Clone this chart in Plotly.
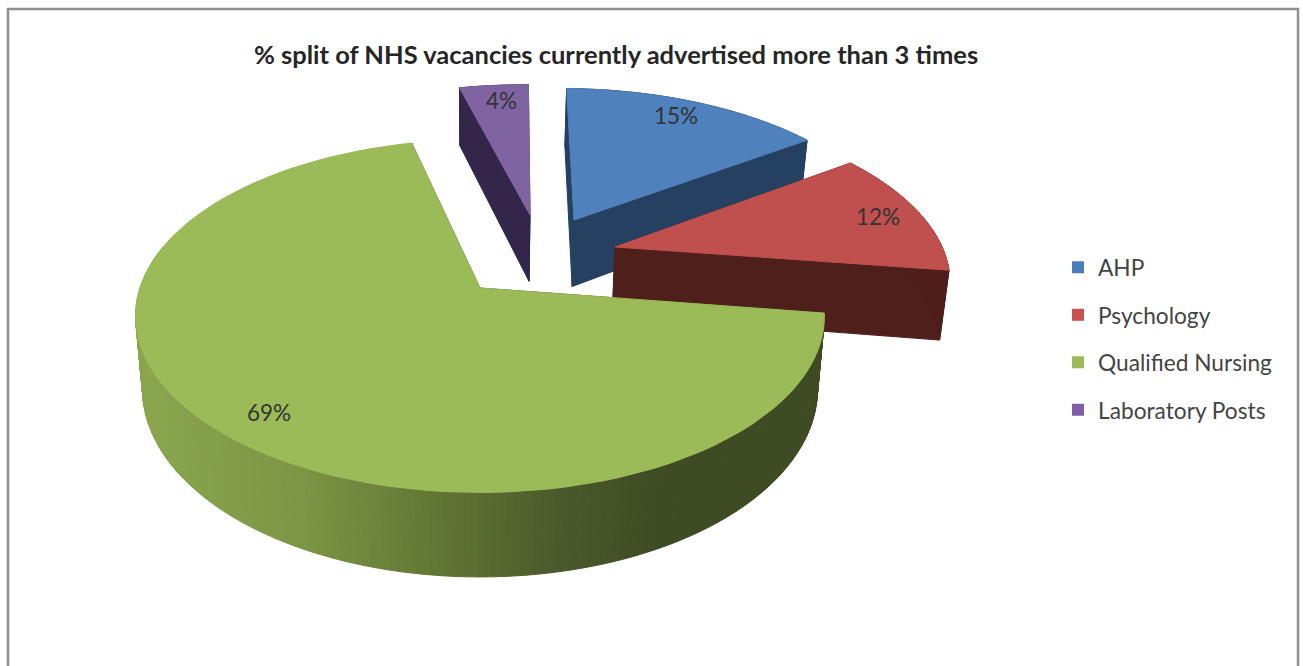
import numpy as np
import plotly.graph_objects as go

# ---- data ----
categories = ["AHP", "Psychology", "Qualified Nursing", "Laboratory Posts"]
shares = [15, 12, 69, 4]
title_text = "% split of NHS vacancies currently advertised more than 3 times"

# ---- styling ----
top_colors = ["#4f81bd", "#c0504d", "#9bbb59", "#8064a2"]
side_colors = ["#254061", "#4f1f1b", "#3f4b23", "#33264a"]
legend_colors = ["#4a7ebb", "#c8504e", "#9bbb59", "#7f5fa8"]
TEXT = "#333333"
FONT = "Lato, 'Open Sans', sans-serif"

# Pixel positions of each slice's apex on the pie's top face (the explosion)
apex_px = [(574, 220), (615, 247), (480, 288), (530, 215)]
label_px = [(676, 115), (878, 216), (269, 412), (501, 100)]

# Projection of the unit-disc pie onto the page
CX, CY = 480.0, 288.0
A, B, K = 340.0, 172.0, 0.159
DEPTH = 71.0
SHRINK = 0.98
ROTATION = 1.0


def project(u, v, bottom=False):
    s = 1.0 / (1.0 - K * np.asarray(v))
    x = A * np.asarray(u) * s
    y = B * np.asarray(v) * s
    if bottom:
        return CX + x * SHRINK, CY + y + DEPTH * s
    return CX + x, CY + y


def unproject(px, py):
    dx, dy = px - CX, py - CY
    v = dy / (B + K * dy)
    u = dx * (1 - K * v) / A
    return u, v


def ring(c, a):
    """disc position of angle a (deg, clockwise from 12 o'clock) for centre c"""
    r = np.radians(a)
    return c[0] + np.sin(r), c[1] - np.cos(r)


fig = go.Figure()


def poly(xs, ys, color, name=None, text=None):
    fig.add_trace(go.Scatter(
        x=list(xs) + [xs[0]], y=list(ys) + [ys[0]], mode="lines", fill="toself",
        fillcolor=color, line=dict(color=color, width=1), showlegend=False,
        name=name or "", hoverinfo="text" if text else "skip", text=text,
        hoveron="fills"))


def mix(stops, t):
    xs = [s[0] for s in stops]
    ch = [np.interp(t, xs, [int(s[1][i:i + 2], 16) for s in stops]) for i in (1, 3, 5)]
    return "#%02x%02x%02x" % tuple(int(round(c)) for c in ch)


green_stops = [(140, "#8aa64d"), (300, "#7d9545"), (420, "#647a36"), (560, "#4a5a2b"),
               (660, "#3f4b23"), (830, "#3f4b23")]

edges = np.cumsum([0] + shares) / sum(shares) * 360.0 + ROTATION
spans = list(zip(edges[:-1], edges[1:]))
centres = [unproject(*p) for p in apex_px]

for i in [3, 0, 1, 2]:  # far slices first
    c = centres[i]
    a0, a1 = spans[i]
    # radial cut faces
    for a in (a0, a1):
        u, v = ring(c, a)
        tx, ty = project(np.array([c[0], u]), np.array([c[1], v]))
        bx, by = project(np.array([c[0], u]), np.array([c[1], v]), bottom=True)
        poly([tx[0], tx[1], bx[1], bx[0]], [ty[0], ty[1], by[1], by[0]], side_colors[i])
    # curved outer wall, in strips
    steps = int(max(2, (a1 - a0) / 1.0))
    angles = np.linspace(a0, a1, steps + 1)
    for a, b in zip(angles[:-1], angles[1:]):
        if i == 2 and not (90 < (a + b) / 2 < 285):
            continue
        u, v = ring(c, np.array([a, b]))
        tx, ty = project(u, v)
        bx, by = project(u, v, bottom=True)
        col = mix(green_stops, (tx[0] + tx[1]) / 2) if i == 2 else side_colors[i]
        poly([tx[0], tx[1], bx[1], bx[0]], [ty[0], ty[1], by[1], by[0]], col)
    # top face
    angs = np.linspace(a0, a1, 90)
    u, v = ring(c, angs)
    tx, ty = project(np.r_[c[0], u], np.r_[c[1], v])
    poly(list(tx), list(ty), top_colors[i], name=categories[i],
         text=f"{categories[i]}: {shares[i]}%")

# legend entries
for name, col in zip(categories, legend_colors):
    fig.add_trace(go.Scatter(x=[None], y=[None], mode="markers", name=name, legendgroup=name,
                             marker=dict(symbol="square", size=12, color=col)))

annotations = [
    dict(x=x, y=y, text=f"{s}%", showarrow=False, xref="x", yref="y",
         font=dict(family=FONT, size=22.5, color=TEXT))
    for (x, y), s in zip(label_px, shares)
]

fig.update_layout(
    width=1303, height=666, autosize=False,
    margin=dict(l=0, r=0, t=0, b=0),
    paper_bgcolor="white", plot_bgcolor="white",
    xaxis=dict(range=[0, 1303], visible=False, fixedrange=True),
    yaxis=dict(range=[666, 0], visible=False, fixedrange=True),
    title=dict(text=f"<b>{title_text}</b>", x=616 / 1303, xanchor="center",
               y=1 - 55 / 666, yanchor="middle",
               font=dict(family=FONT, size=25.5, color="#262626")),
    legend=dict(x=1058 / 1303, y=1 - 246 / 666, xanchor="left", yanchor="top",
                tracegroupgap=15, itemwidth=30,
                font=dict(family=FONT, size=22.7, color="#444444"), bgcolor="rgba(0,0,0,0)"),
    annotations=annotations,
    shapes=[dict(type="rect", xref="x", yref="y", x0=8, x1=1298, y0=9, y1=690,
                 line=dict(color="#8f8f8f", width=2.5))],
    showlegend=True,
)

fig.write_html("out.html", config={"displayModeBar": False},
               post_script="document.body.style.margin='0';document.body.style.overflow='hidden';")
